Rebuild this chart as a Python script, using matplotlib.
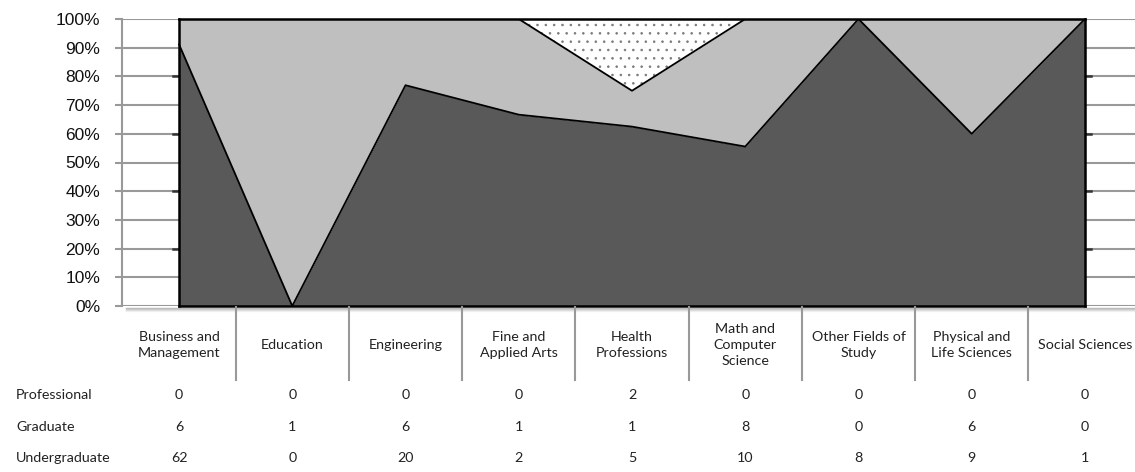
import numpy as np
import matplotlib.pyplot as plt
import matplotlib.transforms as mtransforms
from matplotlib.lines import Line2D

# ==================================
# DATA
# ==================================

categories = [
    "Business and\nManagement", "Education", "Engineering",
    "Fine and\nApplied Arts", "Health\nProfessions",
    "Math and\nComputer\nScience", "Other Fields of\nStudy",
    "Physical and\nLife Sciences", "Social Sciences",
]
row_names = ["Professional", "Graduate", "Undergraduate"]
professional = [0, 0, 0, 0, 2, 0, 0, 0, 0]
graduate = [6, 1, 6, 1, 1, 8, 0, 6, 0]
undergraduate = [62, 0, 20, 2, 5, 10, 8, 9, 1]
y_ticks = list(range(0, 101, 10))

plt.rcParams["font.family"] = ["Lato", "DejaVu Sans"]
plt.rcParams["hatch.color"] = "#7a7a7a"
plt.rcParams["hatch.linewidth"] = 0.6

W, H = 1135, 472
fig = plt.figure(figsize=(W / 100, H / 100), dpi=100)


def fy(py):
    return 1 - py / H


left, right, top, bottom = 122.4, 1141.6, 19, 306
ax = fig.add_axes([left / W, fy(bottom), (right - left) / W, (bottom - top) / H])

x = np.arange(len(categories))
u = np.array(undergraduate, dtype=float)
g = np.array(graduate, dtype=float)
p = np.array(professional, dtype=float)
total = u + g + p
u_top = u / total * 100
g_top = (u + g) / total * 100
p_top = np.full(len(x), 100.0)

# ==================================
# AREAS
# ==================================

ax.fill_between(x, 0, u_top, color="#595959", lw=0, zorder=2)
ax.fill_between(x, u_top, g_top, color="#BFBFBF", lw=0, zorder=2)
ax.fill_between(x, g_top, p_top, facecolor="white", edgecolor="#7a7a7a",
                hatch="..", lw=0, zorder=2)

ax.plot(x, u_top, color="black", lw=1.3, zorder=3)
ax.plot(x, g_top, color="black", lw=1.3, zorder=3)

# border of plotted area
ax.plot([0, 0], [0, 100], color="black", lw=1.8, zorder=4, clip_on=False)
ax.plot([8, 8], [0, 100], color="black", lw=1.8, zorder=4, clip_on=False)
ax.plot([0, 8], [100, 100], color="black", lw=1.8, zorder=4, clip_on=False)
ax.plot([0, 8], [0, 0], color="black", lw=1.8, zorder=4, clip_on=False)

# small dark ticks at the area edges
for v in [20, 40, 60, 80]:
    ax.plot([-0.055, 0], [v, v], color="#333333", lw=1.8, zorder=1)
    ax.plot([8, 8.055], [v, v], color="#333333", lw=1.8, zorder=1)

ax.set_xlim(-0.5, 8.5)
ax.set_ylim(0, 100)
ax.set_yticks(y_ticks)
ax.set_yticklabels([f"{v}%" for v in y_ticks], family="Liberation Sans",
                   fontsize=12.5, color="#111111")
ax.set_xticks([])
ax.yaxis.grid(True, color="#999999", lw=1.5, zorder=0)
ax.set_axisbelow(True)
ax.tick_params(axis="y", length=5, width=1.5, color="#999999", pad=11)
for s in ["top", "right", "bottom"]:
    ax.spines[s].set_visible(False)
ax.spines["left"].set_color("#999999")
ax.spines["left"].set_linewidth(1.5)
ax.patch.set_alpha(0)

# drop shadow under the plot
for i, a in enumerate([0.45, 0.3, 0.18, 0.08]):
    fig.add_artist(Line2D([126 / W, 1135 / W], [fy(307.5 + i), fy(307.5 + i)],
                          color="#777777", alpha=a, lw=1))

# ==================================
# DATA TABLE
# ==================================

trans = mtransforms.blended_transform_factory(ax.transData, fig.transFigure)

for i, name in enumerate(categories):
    ax.text(i, fy(345), name, transform=trans, ha="center", va="center",
            multialignment="center", fontsize=10.3, linespacing=1.4,
            color="#222222")

for xd in np.arange(0.5, 8, 1.0):
    fig.add_artist(Line2D([xd, xd], [fy(307), fy(380)], transform=trans,
                          color="#999999", lw=1.5))

rows = [professional, graduate, undergraduate]
row_y = [395, 427, 458]
for name, vals, py in zip(row_names, rows, row_y):
    fig.text(16 / W, fy(py), name, ha="left", va="center", fontsize=10.3,
             color="#222222")
    for i, v in enumerate(vals):
        ax.text(i, fy(py), str(v), transform=trans, ha="center", va="center",
                fontsize=10.3, color="#222222")

fig.savefig("out.png", dpi=100)
plt.close(fig)
